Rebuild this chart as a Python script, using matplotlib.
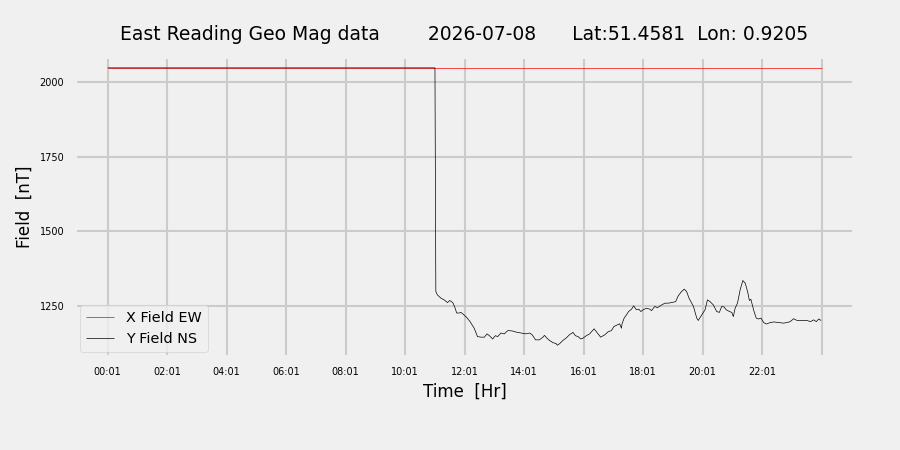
import matplotlib
matplotlib.use("Agg")
import matplotlib.pyplot as plt

# values (time in hours from 00:01, field in nT)
x_hours = [0.0, 24.0]
x_field = [2048, 2048]

y_hours = [0.0, 11.0,
           11.03, 11.08, 11.20, 11.31, 11.42, 11.50, 11.57, 11.61, 11.68, 11.73,
           11.82, 11.87, 11.95, 12.06, 12.18, 12.32, 12.43, 12.55, 12.66, 12.75,
           12.83, 12.94, 13.03, 13.11, 13.22, 13.33, 13.45, 13.59, 13.73, 13.90,
           14.06, 14.18, 14.27, 14.38, 14.51, 14.63, 14.68, 14.76, 14.85, 14.96,
           15.08,
           15.11, 15.19, 15.30, 15.41, 15.52, 15.64, 15.72, 15.81, 15.90, 15.98,
           16.09, 16.20, 16.35, 16.46, 16.57, 16.71, 16.82, 16.93, 17.02, 17.13,
           17.21, 17.27, 17.29, 17.36, 17.44, 17.51, 17.61, 17.68, 17.77, 17.85,
           17.92, 18.00, 18.11, 18.22, 18.28, 18.39, 18.48, 18.62, 18.73, 18.84,
           18.95, 19.09, 19.18, 19.29, 19.38, 19.46, 19.54,
           19.69, 19.80, 19.85, 19.97, 20.08, 20.16, 20.25, 20.36, 20.47, 20.56,
           20.64, 20.72, 20.79, 20.90, 20.98, 21.03, 21.09, 21.17, 21.26, 21.35,
           21.43, 21.51, 21.57, 21.62, 21.71, 21.80, 21.88, 21.96, 22.05, 22.14,
           22.27, 22.40, 22.55, 22.72, 22.83, 22.94, 23.06, 23.17, 23.34, 23.51,
           23.62, 23.73, 23.82, 23.90, 23.98]
y_field = [2048, 2048,
           1298, 1287, 1276, 1270, 1261, 1268, 1263, 1259, 1242, 1226,
           1226, 1228, 1222, 1212, 1197, 1175, 1147, 1145, 1145, 1156,
           1150, 1139, 1150, 1147, 1159, 1156, 1167, 1166, 1162, 1159,
           1156, 1159, 1153, 1136, 1136, 1145, 1151, 1142, 1134, 1127,
           1123,
           1118, 1123, 1134, 1142, 1153, 1161, 1150, 1147, 1139, 1142,
           1150, 1156, 1173, 1159, 1145, 1153, 1163, 1167, 1181, 1186,
           1190, 1175, 1190, 1209, 1220, 1231, 1239, 1250, 1237, 1239,
           1231, 1237, 1242, 1239, 1234, 1248, 1244, 1253, 1259, 1259,
           1261, 1264, 1284, 1298, 1306, 1298, 1276,
           1248, 1209, 1201, 1220, 1237, 1270, 1264, 1253, 1231, 1228,
           1248, 1246, 1237, 1231, 1228, 1214, 1242, 1259, 1304, 1335,
           1326, 1298, 1268, 1272, 1237, 1209, 1206, 1209, 1194, 1189,
           1194, 1196, 1194, 1192, 1194, 1197, 1207, 1201, 1201, 1201,
           1197, 1203, 1197, 1206, 1201]

tick_pos = [0, 2, 4, 6, 8, 10, 12, 14, 16, 18, 20, 22, 24]
tick_labels = ["00:01", "02:01", "04:01", "06:01", "08:01", "10:01", "12:01",
               "14:01", "16:01", "18:01", "20:01", "22:01", ""]
y_ticks = [1250, 1500, 1750, 2000]

title = "East Reading Geo Mag data        2026-07-08      Lat:51.4581  Lon: 0.9205"

plt.style.use("fivethirtyeight")
plt.rcParams["font.family"] = ["DejaVu Sans"]
plt.rcParams["grid.linewidth"] = 1.5

fig = plt.figure(figsize=(9, 4.5), dpi=100)
ax = fig.add_subplot(111)
fig.subplots_adjust(left=0.083, right=0.949, top=0.873, bottom=0.207)

ax.plot(x_hours, x_field, color="red", linewidth=0.5, label="X Field EW")
ax.plot(y_hours, y_field, color="black", linewidth=0.5, label="Y Field NS")

ax.set_xticks(tick_pos)
ax.set_xticklabels(tick_labels, fontsize=7)
ax.set_yticks(y_ticks)
ax.tick_params(axis="y", labelsize=7)
ax.tick_params(axis="both", pad=7.5)
ax.set_xlim(-1.11, 25.09)
ax.set_ylim(1079, 2084)

ax.set_title(title, fontsize=13.5, pad=12)
ax.set_xlabel("Time  [Hr]", fontsize=12)
ax.set_ylabel("Field  [nT]", fontsize=12)
ax.legend(loc="lower left", fontsize=10.4, borderaxespad=0.35)

fig.savefig("out.png", dpi=100, facecolor=fig.get_facecolor())
